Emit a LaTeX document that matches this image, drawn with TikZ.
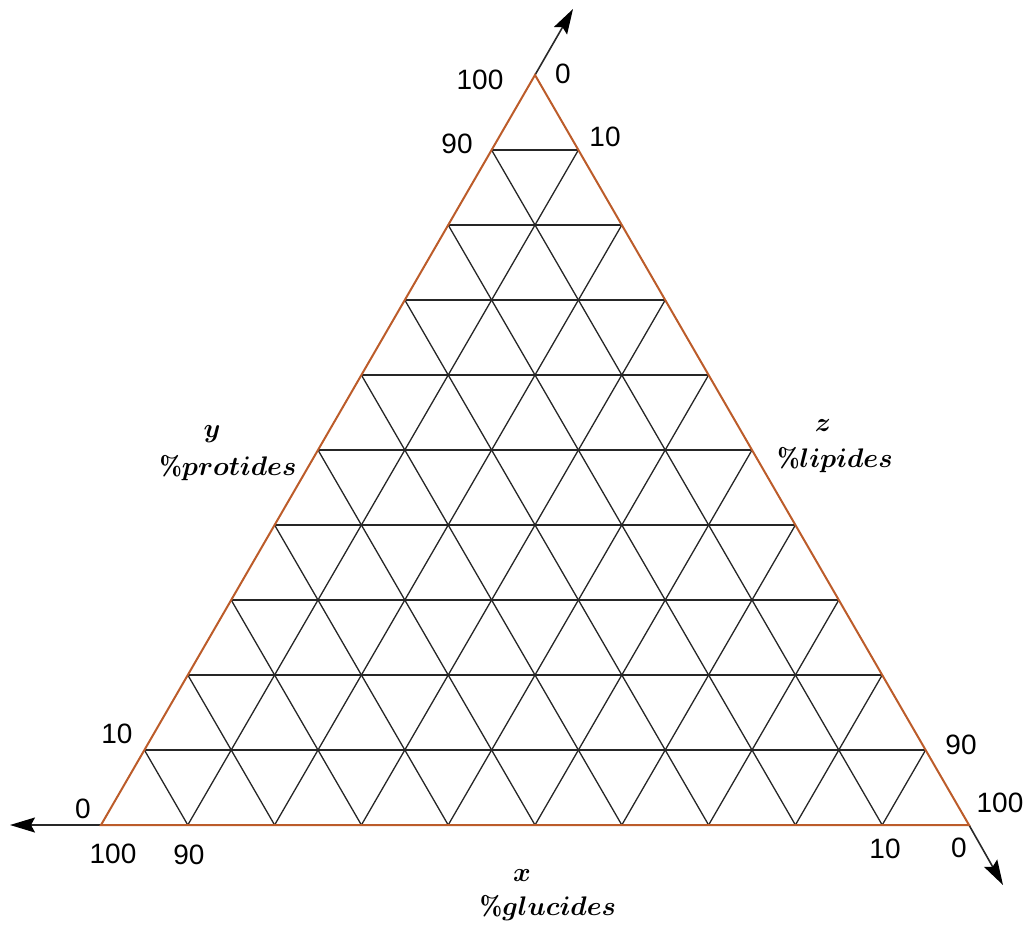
\documentclass[tikz,border=0pt]{standalone}
\usepackage{fontspec}
\setsansfont{Liberation Sans}
\usetikzlibrary{arrows.meta,calc}
\definecolor{sidebrown}{RGB}{188,92,42}
\definecolor{arrowgray}{RGB}{40,40,40}
\tikzset{
  side/.style={draw=sidebrown,line width=2pt},
  gridline/.style={draw=black!85,line width=1.3pt},
  axisarrow/.style={draw=arrowgray,line width=1.6pt,-{Stealth[length=25pt,width=15pt,inset=4pt,color=black]}},
  num/.style={font=\sffamily\fontsize{28}{28}\selectfont,inner sep=0pt},
  lab/.style={font=\fontsize{24.88}{25}\selectfont\boldmath,inner sep=0pt,scale=1.08}
}
\begin{document}
\begin{tikzpicture}[x=1pt,y=-1pt]
\useasboundingbox (0,0) rectangle (1030,926);
\coordinate (A) at (101,825);
\coordinate (B) at (969,825);
\coordinate (C) at (535,75);
\coordinate (Aend) at (10,825);
\coordinate (Cend) at (573,9);
\coordinate (Bend) at (1003,885);
% grid
\foreach \i in {1,...,9}{
  \draw[gridline] ($(A)!\i/10!(C)$) -- ($(B)!\i/10!(C)$);
  \draw[gridline] ($(A)!\i/10!(B)$) -- ($(C)!\i/10!(B)$);
  \draw[gridline] ($(B)!\i/10!(A)$) -- ($(C)!\i/10!(A)$);
}
% arrows
\draw[axisarrow] (A) -- (Aend);
\draw[axisarrow] (C) -- (Cend);
\draw[axisarrow] (B) -- (Bend);
% sides
\draw[side,line join=miter] (A) -- (B) -- (C) -- cycle;
% numbers
\node[num] (t100) at (480,80) {100};
\node[num] (t0) at (563,74) {0};
\node[num] (t90) at (457,144) {90};
\node[num] (t10) at (605,137) {10};
\node[num] (l10) at (117,734) {10};
\node[num] (l0) at (83,809) {0};
\node[num] (b100) at (113,854) {100};
\node[num] (b90) at (189,855) {90};
\node[num] (r90) at (961,745) {90};
\node[num] (r100) at (1000,803) {100};
\node[num] (r10) at (885,849) {10};
\node[num] (r0) at (959,848) {0};
% axis labels
\node[lab] (ylab) at (212,434) {$y$};
\node[lab] (yname) at (228,468) {$\%protides$};
\node[lab] (zlab) at (823,426) {$z$};
\node[lab] (zname) at (835,460) {$\%lipides$};
\node[lab] (xlab) at (522,876) {$x$};
\node[lab] (xname) at (548,908) {$\%glucides$};
\end{tikzpicture}
\end{document}
